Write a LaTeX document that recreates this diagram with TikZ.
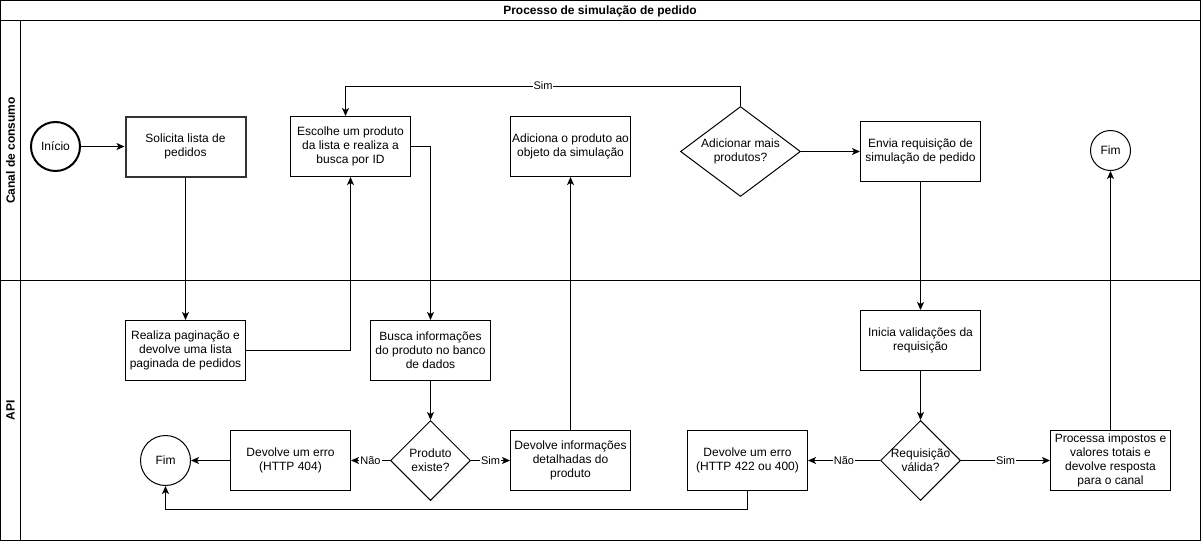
\documentclass[tikz,border=0pt]{standalone}
\usepackage{fontspec}
\setmainfont{Liberation Sans}
\usetikzlibrary{shapes.geometric,arrows.meta}
\newcommand{\txt}{\fontsize{12}{14}\selectfont}
\newcommand{\lbltxt}{\fontsize{11}{13}\selectfont}
\begin{document}
\begin{tikzpicture}[x=1pt,y=-1pt,
  line width=1pt,
  arr/.style={-{Stealth[length=8pt,width=7pt,inset=2pt]}},
  box/.style={draw, rectangle, minimum width=120pt, minimum height=60pt, inner sep=0pt, align=center, font=\txt},
  thickbox/.style={box, line width=2pt, draw=black!80},
  endc/.style={draw, circle, inner sep=0pt, font=\txt},
  dec/.style={draw, diamond, inner sep=0pt},
  lbl/.style={fill=white, inner sep=1pt, font=\lbltxt},
  lane/.style={font=\txt\bfseries, rotate=90}
]
\useasboundingbox (0,0) rectangle (1201,541);
% pool frame, title bar and lanes
\draw (0.5,0.5) rectangle (1200.5,540.5);
\draw (0.5,20.5) -- (1200.5,20.5);
\draw (20.5,20.5) -- (20.5,540.5);
\draw (0.5,280.5) -- (1200.5,280.5);
\node[font=\txt\bfseries] (title) at (600,11) {Processo de simulação de pedido};
\node[lane] (lane1) at (10.5,150.5) {Canal de consumo};
\node[lane] (lane2) at (10.5,410.5) {API};

% lane: Canal de consumo
\node[endc, line width=2pt, minimum size=49pt] (ini) at (55.5,146.5) {Início};
\node[thickbox] (sol) at (185.5,146.5) {Solicita lista de\\pedidos};
\node[box] (esc) at (350.5,146.5) {Escolhe um produto\\da lista e realiza a\\busca por ID};
\node[box] (adic) at (570.5,146.5) {Adiciona o produto ao\\objeto da simulação};
\node[dec, minimum width=120pt, minimum height=90pt,
      label={[align=center,font=\txt]center:Adicionar mais\\produtos?}] (mais) at (740.5,151.5) {};
\node[box] (envia) at (920.5,151.5) {Envia requisição de\\simulação de pedido};
\node[endc, minimum size=40pt] (fimA) at (1110.5,150.5) {Fim};

% lane: API
\node[box] (pag) at (185.5,350.5) {Realiza paginação e\\devolve uma lista\\paginada de pedidos};
\node[box] (busca) at (430.5,350.5) {Busca informações\\do produto no banco\\de dados};
\node[dec, minimum width=80pt, minimum height=80pt,
      label={[align=center,font=\txt]center:Produto\\existe?}] (existe) at (430.5,460.5) {};
\node[box] (e404) at (290.5,460.5) {Devolve um erro\\(HTTP 404)};
\node[endc, minimum size=50pt] (fimB) at (165.5,460.5) {Fim};
\node[box] (info) at (570.5,460.5) {Devolve informações\\detalhadas do\\produto};
\node[box] (e422) at (747.5,460.5) {Devolve um erro\\(HTTP 422 ou 400)};
\node[dec, minimum width=80pt, minimum height=80pt,
      label={[align=center,font=\txt]center:Requisição\\válida?}] (valida) at (920.5,460.5) {};
\node[box] (inicia) at (920.5,340.5) {Inicia validações da\\requisição};
\node[box] (proc) at (1110.5,460.5) {Processa impostos e\\valores totais e\\devolve resposta\\para o canal};

% connectors
\draw[arr] (ini) -- (sol);
\draw[arr] (sol) -- (pag);
\draw[arr] (pag.east) -| (esc.south);
\draw[arr] (esc.east) -| (busca.north);
\draw[arr] (busca) -- (existe);
\draw[arr] (existe) -- node[lbl]{Não} (e404);
\draw[arr] (existe) -- node[lbl]{Sim} (info);
\draw[arr] (e404) -- (fimB);
\draw[arr] (info) -- (adic);
\draw[arr] (mais.north) -- ++(0,-20) -| node[lbl,pos=0.25]{Sim} ([xshift=-5pt]esc.north);
\draw[arr] (mais) -- (envia);
\draw[arr] (envia) -- (inicia);
\draw[arr] (inicia) -- (valida);
\draw[arr] (valida) -- node[lbl]{Não} (e422);
\draw[arr] (valida) -- node[lbl]{Sim} (proc);
\draw[arr] (e422.south) -- ++(0,18) -| (fimB.south);
\draw[arr] (proc) -- (fimA);
\end{tikzpicture}
\end{document}
